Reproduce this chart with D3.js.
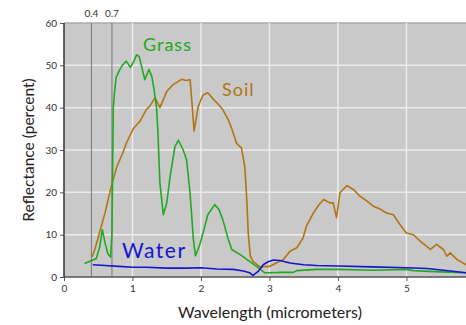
<!DOCTYPE html>
<html>
<head>
<meta charset="utf-8">
<script src="https://cdn.jsdelivr.net/npm/d3@7"></script>
<style>
  body { margin: 0; background: #fff; }
  text { font-family: Lato, "Open Sans", sans-serif; }
</style>
</head>
<body>
<div id="chart"></div>
<script>
// ---- data (wavelength in micrometers, reflectance in %) ----
var grassX = [0.30, 0.42, 0.47, 0.52, 0.56, 0.60, 0.64, 0.68, 0.70, 0.72, 0.74, 0.76, 0.80, 0.85, 0.91, 0.97,
  1.02, 1.06, 1.10, 1.13, 1.18, 1.24, 1.28, 1.30, 1.35, 1.37, 1.40, 1.45, 1.50, 1.55, 1.62, 1.67, 1.74, 1.79,
  1.84, 1.89, 1.92, 1.98, 2.03, 2.10, 2.20, 2.26, 2.32, 2.40, 2.45, 2.60, 2.75, 2.86, 2.93, 3.0, 3.2, 3.35,
  3.4, 3.69, 4.0, 4.5, 5.0, 5.1, 5.5, 5.87];
var grassY = [3.2, 4.0, 4.3, 7, 11.2, 8, 5.5, 4.7, 10, 40, 44, 47, 48.5, 50, 51, 49.5,
  51, 52.5, 52, 50, 46.6, 49, 47.5, 45.8, 40.3, 34.8, 22.3, 14.7, 17.5, 23.8, 30.8, 32.3, 30, 27.7,
  19.9, 8.8, 5, 7.5, 10.4, 14.7, 17.1, 16, 13.5, 8.8, 6.5, 5, 3.2, 1.9, 1.0, 1.0, 1.1, 1.1,
  1.5, 1.8, 1.8, 1.6, 1.8, 1.5, 1.2, 1.0];

var soilX = [0.41, 0.45, 0.52, 0.60, 0.69, 0.77, 0.85, 0.91, 1.01, 1.11, 1.20, 1.25, 1.33, 1.37, 1.40, 1.50,
  1.59, 1.67, 1.72, 1.78, 1.84, 1.85, 1.90, 1.96, 2.03, 2.10, 2.18, 2.23, 2.32, 2.40, 2.45, 2.52, 2.59, 2.64,
  2.67, 2.69, 2.72, 2.76, 2.86, 3.0, 3.15, 3.2, 3.3, 3.4, 3.49, 3.54, 3.64, 3.72, 3.79, 3.88, 3.93, 3.98,
  4.03, 4.13, 4.23, 4.32, 4.42, 4.52, 4.62, 4.71, 4.81, 4.9, 5.0, 5.1, 5.2, 5.35, 5.44, 5.54, 5.59, 5.64,
  5.74, 5.87];
var soilY = [4.8, 6.5, 10.5, 15.2, 21.4, 26, 29, 31.6, 35, 36.8, 39.5, 40.3, 42.3, 41, 40, 43.8,
  45.4, 46.2, 46.7, 46.4, 46.6, 45, 34.5, 40.3, 43, 43.5, 42, 41.2, 39.5, 37.1, 35, 31.6, 30.5, 26.1,
  18, 10.4, 5, 3.7, 2.4, 2.5, 3.7, 4.1, 6.1, 6.9, 9.2, 12, 15.1, 17, 18.3, 17.5, 17.5, 14,
  19.9, 21.6, 20.6, 19.1, 18, 16.7, 16, 15.1, 14.7, 12.5, 10.4, 10, 8.5, 6.5, 7.7, 6.5, 4.9, 5.7,
  4.1, 2.9];

var waterX = [0.42, 0.6, 0.8, 1.0, 1.2, 1.5, 1.8, 2.0, 2.23, 2.47, 2.62, 2.71, 2.76, 2.84, 2.91, 2.98,
  3.06, 3.15, 3.3, 3.5, 3.69, 4.0, 4.5, 5.0, 5.3, 5.64, 5.87];
var waterY = [2.9, 2.7, 2.5, 2.3, 2.3, 2.1, 2.1, 2.2, 1.9, 1.8, 1.4, 1.0, 0.4, 1.4, 2.9, 3.6,
  4.0, 3.9, 3.3, 2.9, 2.7, 2.6, 2.4, 2.2, 2.0, 1.4, 1.0];

var xTicks = [0, 1, 2, 3, 4, 5];
var yTicks = [0, 10, 20, 30, 40, 50, 60];
var markers = [0.4, 0.7];   // visible-light band edges
var seriesNames = ["Grass", "Soil", "Water"];

// ---- layout ----
var width = 466, height = 325;
var margin = {top: 23, right: 0, bottom: 48, left: 64};

var x = d3.scaleLinear().domain([0, 5.87]).range([margin.left, width - margin.right]);
var y = d3.scaleLinear().domain([0, 60]).range([height - margin.bottom, margin.top]);

var svg = d3.select("#chart").append("svg")
  .attr("width", width)
  .attr("height", height);

// plot background
svg.append("rect")
  .attr("x", x(0)).attr("y", y(60))
  .attr("width", x(5.87) - x(0)).attr("height", y(0) - y(60))
  .attr("fill", "#c9c9c9");

// top edge
svg.append("line")
  .attr("x1", x(0)).attr("x2", width)
  .attr("y1", y(60)).attr("y2", y(60))
  .attr("stroke", "#aaa").attr("stroke-width", 1.5);

// grid
svg.append("g").selectAll("line")
  .data(yTicks.slice(1, -1))
  .enter().append("line")
  .attr("x1", x(0)).attr("x2", width)
  .attr("y1", d => y(d)).attr("y2", d => y(d))
  .attr("stroke", "#ececec").attr("stroke-width", 1.5);

svg.append("g").selectAll("line")
  .data(xTicks.slice(1))
  .enter().append("line")
  .attr("x1", d => x(d)).attr("x2", d => x(d))
  .attr("y1", y(60)).attr("y2", y(0))
  .attr("stroke", "#ececec").attr("stroke-width", 1.5);

// 0.4 / 0.7 markers
svg.append("g").selectAll("line")
  .data(markers)
  .enter().append("line")
  .attr("x1", d => x(d)).attr("x2", d => x(d))
  .attr("y1", y(60)).attr("y2", y(0))
  .attr("stroke", "#777").attr("stroke-width", 1);

svg.append("g").selectAll("text")
  .data(markers)
  .enter().append("text")
  .attr("x", d => x(d)).attr("y", 17)
  .attr("text-anchor", "middle")
  .attr("font-size", 10).attr("fill", "#333")
  .text(d => d);

// axes
var yAxis = d3.axisLeft(y).tickValues(yTicks).tickSize(4).tickPadding(3);
var xAxis = d3.axisBottom(x).tickValues(xTicks).tickFormat(d3.format("d")).tickSize(4).tickPadding(4);

var gy = svg.append("g").attr("transform", "translate(" + x(0) + ",0)").call(yAxis);
var gx = svg.append("g").attr("transform", "translate(0," + y(0) + ")").call(xAxis);

[gx, gy].forEach(function(g) {
  g.select(".domain").remove();
  g.selectAll(".tick line").attr("stroke", "#555");
  g.selectAll(".tick text").attr("font-size", 10).attr("fill", "#333")
    .style("font-family", "Lato, sans-serif");
});

svg.append("line")
  .attr("x1", x(0)).attr("x2", width)
  .attr("y1", y(0)).attr("y2", y(0))
  .attr("stroke", "#555").attr("stroke-width", 1.5);
svg.append("line")
  .attr("x1", x(0)).attr("x2", x(0))
  .attr("y1", y(60)).attr("y2", y(0))
  .attr("stroke", "#333").attr("stroke-width", 1.5);

// curves
var line = d3.line()
  .x(d => x(d[0]))
  .y(d => y(d[1]));

function zip(xs, ys) { return xs.map((v, i) => [v, ys[i]]); }

var series = [
  {name: "Soil", pts: zip(soilX, soilY), color: "#b27511"},
  {name: "Grass", pts: zip(grassX, grassY), color: "#22a922"},
  {name: "Water", pts: zip(waterX, waterY), color: "#1414d2"}
];

svg.append("g").selectAll("path")
  .data(series)
  .enter().append("path")
  .attr("d", d => line(d.pts))
  .attr("fill", "none")
  .attr("stroke", d => d.color)
  .attr("stroke-width", 1.6)
  .attr("stroke-linejoin", "round");

// series labels
var labelPos = {
  Grass: [143, 51, "#22a922", 18, 1],
  Soil: [222, 96, "#b27511", 18, 1],
  Water: [122, 258, "#1414d2", 21, 1.5]
};
svg.append("g").selectAll("text")
  .data(seriesNames)
  .enter().append("text")
  .attr("x", d => labelPos[d][0])
  .attr("y", d => labelPos[d][1])
  .attr("fill", d => labelPos[d][2])
  .attr("font-size", d => labelPos[d][3])
  .attr("letter-spacing", d => labelPos[d][4])
  .text(d => d);

// axis titles
svg.append("text")
  .attr("transform", "translate(34," + ((y(0) + y(60)) / 2) + ") rotate(-90)")
  .attr("text-anchor", "middle")
  .attr("font-size", 15.5).attr("fill", "#222")
  .text("Reflectance (percent)");

svg.append("text")
  .attr("x", 270).attr("y", 318)
  .attr("text-anchor", "middle")
  .attr("font-size", 16).attr("fill", "#222")
  .text("Wavelength (micrometers)");
</script>
</body>
</html>
